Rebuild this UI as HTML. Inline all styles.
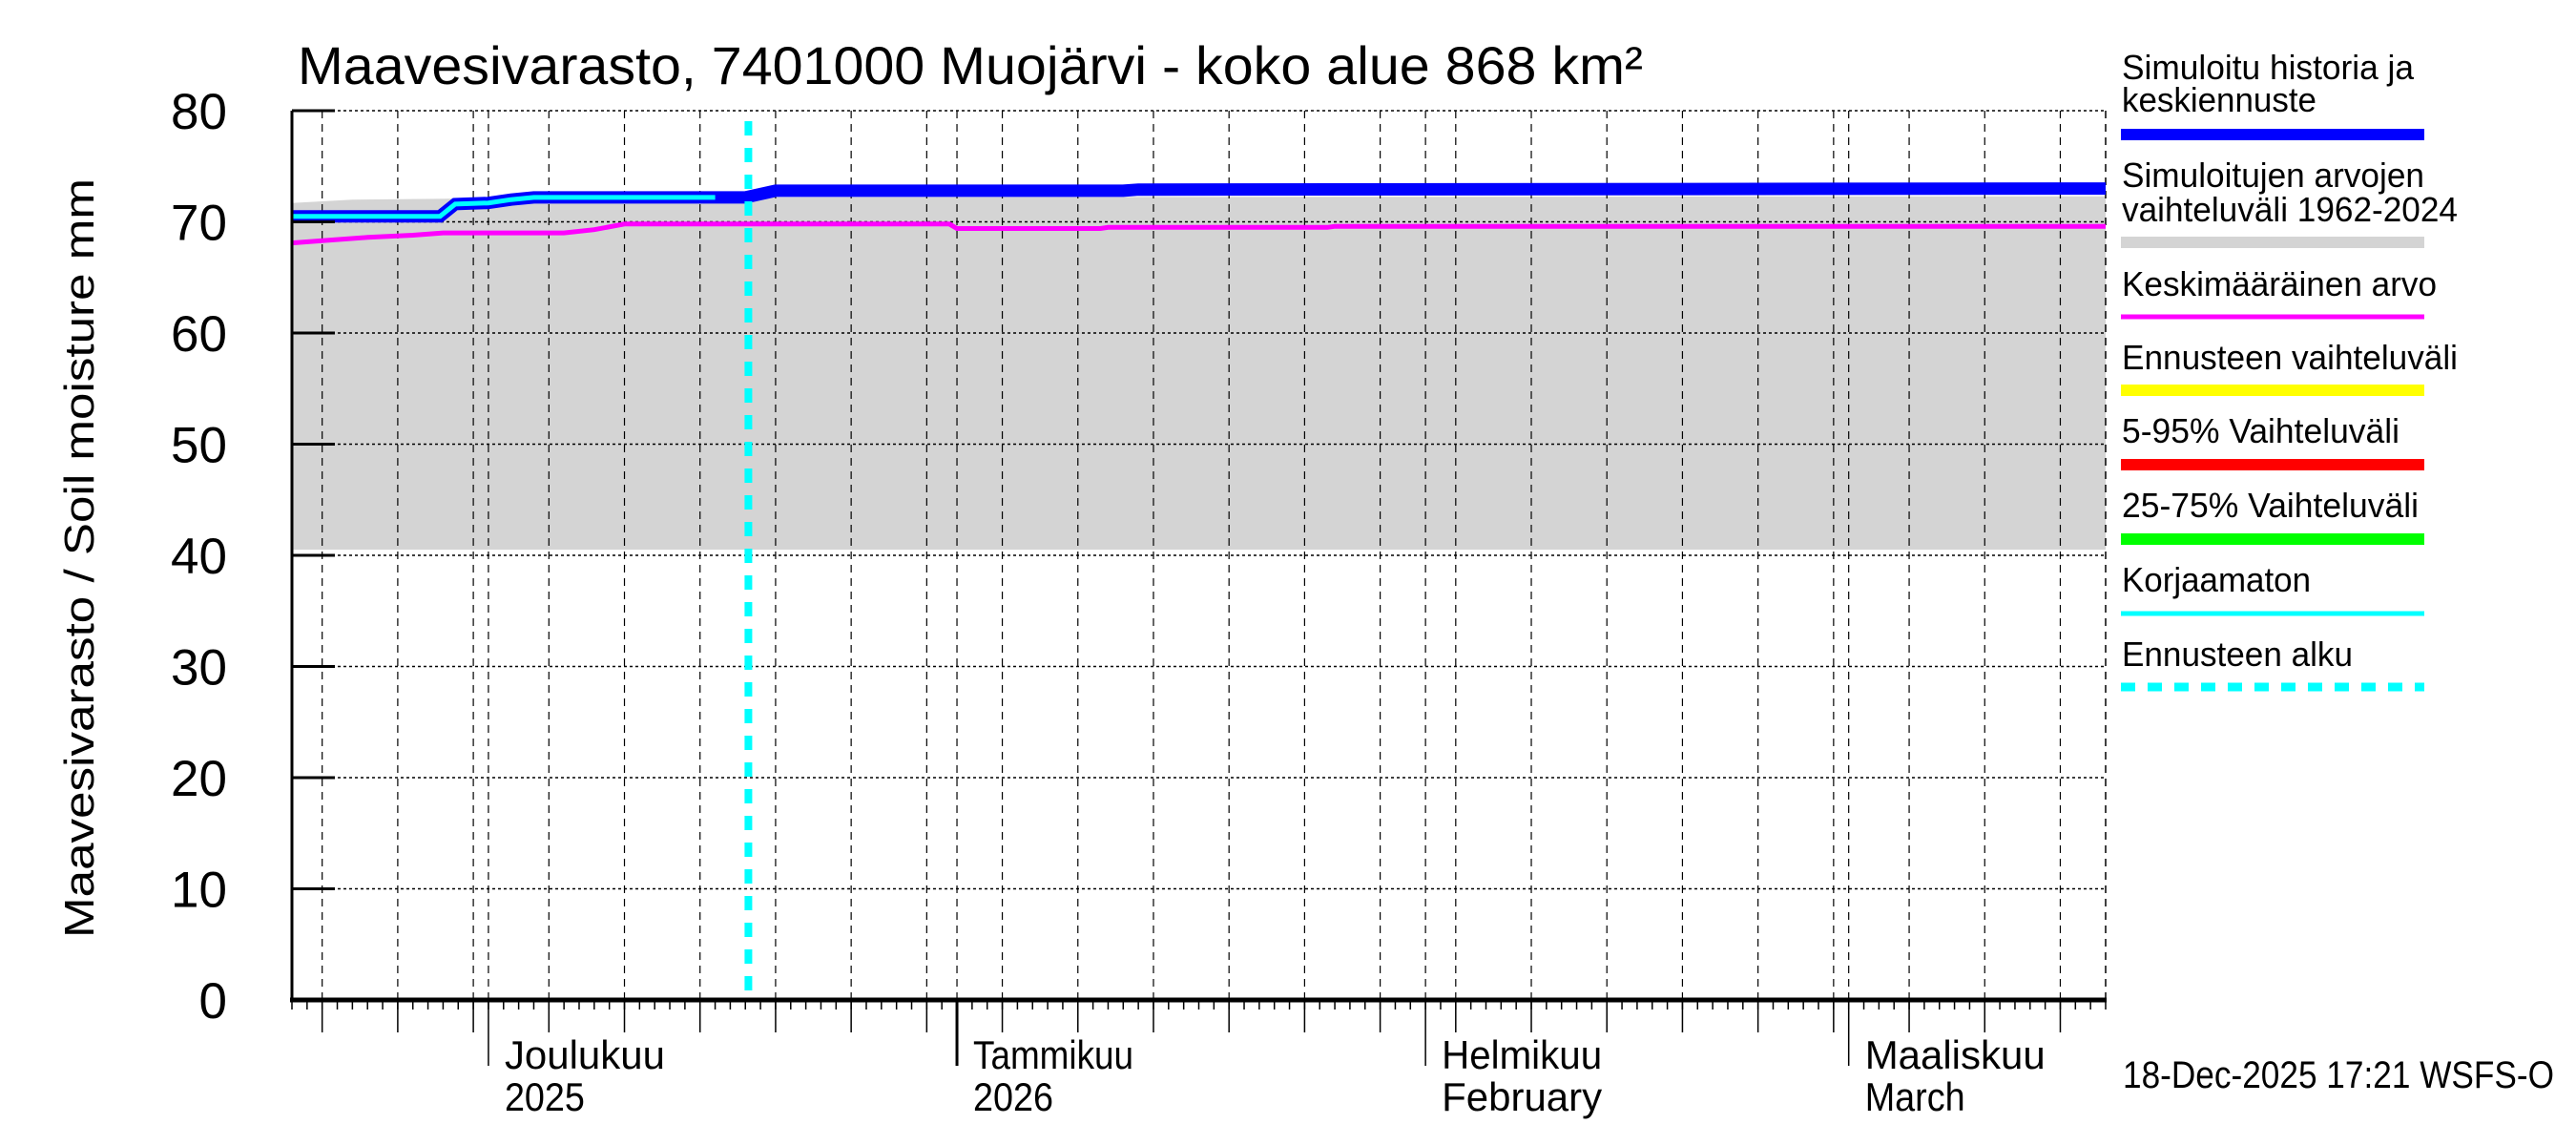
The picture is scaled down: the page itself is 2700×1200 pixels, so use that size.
<!DOCTYPE html>
<html><head><meta charset="utf-8"><style>
html,body{margin:0;padding:0;background:#fff;}
svg{display:block;font-family:"Liberation Sans",sans-serif;}
</style></head><body>
<svg id="chart" width="2700" height="1200" viewBox="0 0 2700 1200" xmlns="http://www.w3.org/2000/svg">
<rect x="0" y="0" width="2700" height="1200" fill="#fff"/>
<g id="bands"></g>
<g id="grid"></g>
<g id="lines"></g>
<g id="axes"></g>
<text x="312" y="88" font-size="56" textLength="1410" lengthAdjust="spacingAndGlyphs">Maavesivarasto, 7401000 Muojärvi - koko alue 868 km²</text>
<text transform="translate(98,585) rotate(-90)" text-anchor="middle" font-size="44" textLength="796" lengthAdjust="spacingAndGlyphs">Maavesivarasto / Soil moisture   mm</text>
<g id="legend"></g>
<text x="2225" y="1140" font-size="40" textLength="452" lengthAdjust="spacingAndGlyphs">18-Dec-2025 17:21 WSFS-O</text>
</svg>
<script>
// day index: 0 = 18 Nov 2025, 120 = 18 Mar 2026
const yTicks = [0,10,20,30,40,50,60,70,80];
const monthDays = [13,44,75,103];
const monthLabels = ["Joulukuu","Tammikuu","Helmikuu","Maaliskuu"];
const monthSub = ["2025","2026","February","March"];
const blueDays = [0,9.8,10.8,13,14.5,16,30,32,55,56,120];
const blueVals = [70.5,70.5,71.6,71.7,72.0,72.2,72.2,72.8,72.8,72.9,73.0];
const cyanDays = [0,9.8,10.8,13,14.5,16,28];
const cyanVals = [70.5,70.5,71.6,71.7,72.0,72.2,72.2];
const grayDays = [0,4,20,120];
const grayHigh = [71.7,72.0,72.2,72.3];
const grayLow = [40.5,40.5,40.5,40.5];
const magDays = [0,2,5,8,10,18,20,22,43.5,44,53.5,54,68.5,69,120];
const magVals = [68.1,68.3,68.6,68.8,69.0,69.0,69.3,69.8,69.8,69.4,69.4,69.5,69.5,69.6,69.6];
const forecastDay = 30.2;

const X0=306,X1=2207,Y0=1048,Y1=116,D0=0,D1=120,V0=0,V1=80;
function xs(d){return X0+(d-D0)/(D1-D0)*(X1-X0);}
function ys(v){return Y0-(v-V0)/(V1-V0)*(Y0-Y1);}
const NS="http://www.w3.org/2000/svg";
function mk(tag,attrs,parent){const e=document.createElementNS(NS,tag);for(const k in attrs)e.setAttribute(k,attrs[k]);parent.appendChild(e);return e;}
function stepPath(ds,vs){let p="";for(let i=0;i<ds.length;i++){p+=(i?"L":"M")+xs(ds[i]).toFixed(1)+","+ys(vs[i]).toFixed(1);}return p;}

const bands=document.getElementById('bands'),grid=document.getElementById('grid'),lines=document.getElementById('lines'),axes=document.getElementById('axes'),legend=document.getElementById('legend');

let bp="";for(let i=0;i<grayDays.length;i++)bp+=(i?"L":"M")+xs(grayDays[i])+","+ys(grayHigh[i]);
for(let i=grayDays.length-1;i>=0;i--)bp+="L"+xs(grayDays[i])+","+ys(grayLow[i]);
const band=mk('path',{d:bp+"Z",fill:"#d4d4d4"},bands);



for(const t of yTicks){
  const g=mk('line',{x1:X0,x2:X1,y1:ys(t),y2:ys(t),stroke:"#000","stroke-width":1.5,"stroke-dasharray":"3,3"},grid);
  
  
}
for(let d=2;d<=D1;d+=5){
  const g=mk('line',{x1:xs(d),x2:xs(d),y1:Y1,y2:Y0,stroke:"#000","stroke-width":1.2,"stroke-dasharray":"8,6"},grid);
  
  
}
for(const d of monthDays){
  const g=mk('line',{x1:xs(d),x2:xs(d),y1:Y1,y2:Y0,stroke:"#000","stroke-width":1.2,"stroke-dasharray":"8,6"},grid);
  
  
}
const rb=mk('line',{x1:X1,x2:X1,y1:Y1,y2:Y0,stroke:"#000","stroke-width":1.5,"stroke-dasharray":"8,6"},grid);



const mag=mk('path',{d:stepPath(magDays,magVals),fill:"none",stroke:"#ff00ff","stroke-width":5},lines);


const blue=mk('path',{d:stepPath(blueDays,blueVals),fill:"none",stroke:"#0000ff","stroke-width":13},lines);


const cy=mk('path',{d:stepPath(cyanDays,cyanVals),fill:"none",stroke:"#00ffff","stroke-width":5},lines);


const fc=mk('line',{x1:xs(forecastDay),x2:xs(forecastDay),y1:127,y2:Y0,stroke:"#00ffff","stroke-width":8,"stroke-dasharray":"15,13"},lines);



const la=mk('line',{x1:X0,x2:X0,y1:Y1,y2:Y0,stroke:"#000","stroke-width":3},axes);


const ba=mk('line',{x1:X0-2,x2:X1+1,y1:Y0,y2:Y0,stroke:"#000","stroke-width":5},axes);


for(const t of yTicks){
  const tk=mk('line',{x1:X0,x2:X0+45,y1:ys(t),y2:ys(t),stroke:"#000","stroke-width":3},axes);
  
  
  const tl=mk('text',{x:238,y:ys(t)+19,"text-anchor":"end","font-size":53},axes);
  tl.textContent=t;
  
  
}
for(let d=0;d<=D1;d++){
  const tk=mk('line',{x1:xs(d),x2:xs(d),y1:Y0,y2:Y0+10,stroke:"#000","stroke-width":1.5},axes);
  
  
}
for(let d=2;d<=D1;d+=5){
  const tk=mk('line',{x1:xs(d),x2:xs(d),y1:Y0,y2:Y0+34,stroke:"#000","stroke-width":1.5},axes);
  
  
}
monthDays.forEach((d,i)=>{
  const tk=mk('line',{x1:xs(d),x2:xs(d),y1:Y0,y2:1117,stroke:"#000","stroke-width":(i==1?3:1.5)},axes);
  
  
  const l1=mk('text',{x:xs(d)+17,y:1120,"font-size":42,textLength:monthLabels[i].length*21,lengthAdjust:"spacingAndGlyphs"},axes);
  l1.textContent=monthLabels[i];
  
  
  const l2=mk('text',{x:xs(d)+17,y:1164,"font-size":42,textLength:monthSub[i].length*21,lengthAdjust:"spacingAndGlyphs"},axes);
  l2.textContent=monthSub[i];
  
  
});

const legItems=[
 {t:["Simuloitu historia ja","keskiennuste"],w2:[306,204],y:[83,117],ly:141,c:"#0000ff",w:12,dash:null},
 {t:["Simuloitujen arvojen","vaihteluväli 1962-2024"],w2:[317,352],y:[196,232],ly:254,c:"#d4d4d4",w:12,dash:null},
 {t:["Keskimääräinen arvo"],w2:[330],y:[310],ly:332,c:"#ff00ff",w:5,dash:null},
 {t:["Ennusteen vaihteluväli"],w2:[352],y:[387],ly:409,c:"#ffff00",w:12,dash:null},
 {t:["5-95% Vaihteluväli"],w2:[291],y:[464],ly:487,c:"#ff0000",w:12,dash:null},
 {t:["25-75% Vaihteluväli"],w2:[311],y:[542],ly:565,c:"#00ff00",w:12,dash:null},
 {t:["Korjaamaton"],w2:[198],y:[620],ly:643,c:"#00ffff",w:5,dash:null},
 {t:["Ennusteen alku"],w2:[242],y:[698],ly:720,c:"#00ffff",w:9,dash:"15,13"}
];
legItems.forEach(it=>{
  it.t.forEach((s,j)=>{
    const tx=mk('text',{x:2224,y:it.y[j],"font-size":36,textLength:it.w2[j],lengthAdjust:"spacingAndGlyphs"},legend);
    tx.textContent=s;
    
    
  });
  const a={x1:2223,x2:2541,y1:it.ly,y2:it.ly,stroke:it.c,"stroke-width":it.w};
  if(it.dash)a["stroke-dasharray"]=it.dash;
  const ln=mk('line',a,legend);
  
  
});
</script>
</body></html>
